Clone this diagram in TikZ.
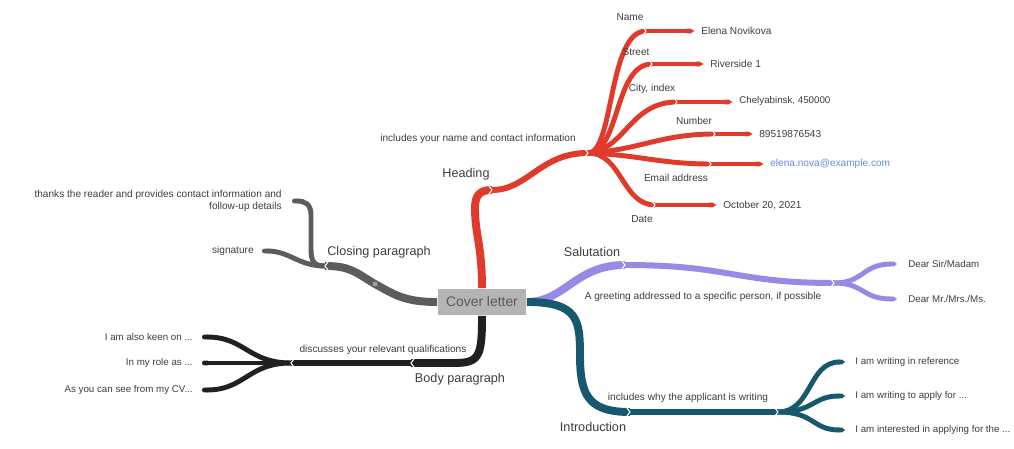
\documentclass[tikz,border=0pt]{standalone}
\usepackage{fontspec}
\setmainfont{Liberation Sans}
\usetikzlibrary{arrows.meta}
\definecolor{hred}{RGB}{224,58,42}
\definecolor{cgray}{RGB}{92,92,92}
\definecolor{bblack}{RGB}{32,32,32}
\definecolor{spurple}{RGB}{152,138,228}
\definecolor{iteal}{RGB}{22,88,110}
\definecolor{txt}{RGB}{66,60,62}
\definecolor{mailblue}{RGB}{104,140,214}
\definecolor{boxgray}{RGB}{180,180,180}
\begin{document}
\begin{tikzpicture}[x=0.02cm,y=-0.02cm,
    lbl/.style={font=\fontsize{5.75}{6.9}\selectfont,text=txt,inner sep=0pt},
    leaf/.style={lbl,font=\fontsize{5.55}{6.7}\selectfont},
    head/.style={font=\fontsize{7.2}{8.6}\selectfont,text=txt,inner sep=0pt},
    wa/.style={line width=4.5pt},
    wb/.style={line width=3.4pt},
    wc/.style={line width=2.8pt},
    jointcut/.style={draw=white,line width=0.6pt}]
    \useasboundingbox (0,0) rectangle (1014,449);
    \fill[white] (0,0) rectangle (1014,449);

    \node[fill=boxgray,minimum width=1.78cm,minimum height=0.54cm,inner sep=0pt,
        font=\fontsize{7.9}{9}\selectfont,text=txt!85] (cover) at (482,302) {Cover letter};

    % heading
    \coordinate (hj) at (492,190);
    \coordinate (hub) at (588,153);
    \draw[hred,wa] (cover.north) .. controls (482,245) and (475,235) .. (475,208)
        .. controls (475,195) and (480,190) .. (hj);
    \draw[hred,wb] (hj) .. controls (528,190) and (540,153) .. (hub);
    \node[lbl] (hdesc) at (478,139) {includes your name and contact information};
    \node[head] (heading) at (466,174) {Heading};

    \coordinate (nm) at (646,31);
    \coordinate (st) at (652,64);
    \coordinate (ct) at (677,102);
    \coordinate (nb) at (715,134);
    \coordinate (em) at (711,164);
    \coordinate (dt) at (655,205);
    \draw[hred,wc] (hub) .. controls (614,153) and (608,31) .. (nm);
    \draw[hred,wc] (hub) .. controls (620,153) and (614,64) .. (st);
    \draw[hred,wc] (hub) .. controls (625,150) and (630,102) .. (ct);
    \draw[hred,wc] (hub) .. controls (640,150) and (660,134) .. (nb);
    \draw[hred,wc] (hub) .. controls (640,155) and (660,164) .. (em);
    \draw[hred,wc] (hub) .. controls (622,153) and (622,205) .. (dt);

    \node[lbl] (kname) at (630,17) {Name};
    \node[lbl] (kstreet) at (636,52) {Street};
    \node[lbl] (kcity) at (652,89) {City, index};
    \node[lbl] (knumber) at (694,121) {Number};
    \node[lbl] (kmail) at (676,178) {Email address};
    \node[lbl] (kdate) at (642,219) {Date};

    \node[lbl,anchor=west] (v1) at (701,31) {Elena Novikova};
    \node[lbl,anchor=west] (v2) at (710,64) {Riverside 1};
    \node[leaf,anchor=west] (v3) at (739,101) {Chelyabinsk, 450000};
    \node[lbl,anchor=west] (v4) at (759,134) {89519876543};
    \node[lbl,anchor=west,text=mailblue] (v5) at (770,164) {elena.nova@example.com};
    \node[lbl,anchor=west] (v6) at (723,205) {October 20, 2021};
    \foreach \s/\v in {nm/v1,st/v2,ct/v3,nb/v4,em/v5,dt/v6}
        \draw[hred,wc,-{Triangle Cap[length=2.4pt]},shorten >=0.13cm] (\s) -- (\s -| \v.west);

    % salutation
    \coordinate (sj) at (625,265);
    \coordinate (sf) at (834,283);
    \draw[spurple,wa] (cover.east) .. controls (565,302) and (575,265) .. (sj);
    \draw[spurple,wb] (sj) .. controls (730,265) and (735,283) .. (sf);
    \node[head] (salut) at (592,252) {Salutation};
    \node[lbl] (sdesc) at (703,297) {A greeting addressed to a specific person, if possible};
    \node[leaf,anchor=west] (s1) at (908,264) {Dear Sir/Madam};
    \node[leaf,anchor=west] (s2) at (908,299) {Dear Mr./Mrs./Ms.};
    \draw[spurple,wc,-{Triangle Cap[length=1.8pt]},shorten >=0.22cm] (sf) .. controls (864,283) and (862,264) .. (s1.west);
    \draw[spurple,wc,-{Triangle Cap[length=1.8pt]},shorten >=0.22cm] (sf) .. controls (864,283) and (862,299) .. (s2.west);

    % introduction
    \coordinate (ij) at (630,412);
    \coordinate (if) at (778,412);
    \draw[iteal,wa] (cover.east) .. controls (578,302) and (580,320) .. (580,355)
        .. controls (580,395) and (588,412) .. (ij);
    \draw[iteal,wb] (ij) -- (if);
    \node[lbl] (idesc) at (688,398) {includes why the applicant is writing};
    \node[head] (intro) at (593,427) {Introduction};
    \node[leaf,anchor=west] (i1) at (855,362) {I am writing in reference};
    \node[leaf,anchor=west] (i2) at (855,396) {I am writing to apply for ...};
    \node[leaf,anchor=west] (i3) at (855,430) {I am interested in applying for the ...};
    \draw[iteal,wc,-{Triangle Cap[length=1.8pt]},shorten >=0.2cm] (if) .. controls (812,412) and (808,362) .. (i1.west);
    \draw[iteal,wc,-{Triangle Cap[length=1.8pt]},shorten >=0.2cm] (if) .. controls (815,412) and (812,396) .. (i2.west);
    \draw[iteal,wc,-{Triangle Cap[length=1.8pt]},shorten >=0.2cm] (if) .. controls (815,412) and (812,430) .. (i3.west);

    % body paragraph
    \coordinate (bj) at (411,363);
    \coordinate (bf) at (291,363);
    \draw[bblack,wa] (cover.south) .. controls (482,355) and (480,363) .. (455,363) -- (bj);
    \draw[bblack,wb] (bj) -- (bf);
    \node[lbl] (bdesc) at (383,350) {discusses your relevant qualifications};
    \node[head] (body) at (460,379) {Body paragraph};
    \node[leaf,anchor=east] (b1) at (193,337) {I am also keen on ...};
    \node[leaf,anchor=east] (b2) at (193,363) {In my role as ...};
    \node[leaf,anchor=east] (b3) at (193,390) {As you can see from my CV...};
    \draw[bblack,wc,-{Round Cap},shorten >=0.18cm] (bf) .. controls (248,363) and (245,337) .. (b1.east);
    \draw[bblack,wc,-{Round Cap},shorten >=0.18cm] (bf) -- (b2.east);
    \draw[bblack,wc,-{Round Cap},shorten >=0.18cm] (bf) .. controls (248,363) and (245,390) .. (b3.east);

    % closing paragraph
    \coordinate (cj) at (325,266);
    \coordinate (cdot) at (375,284);
    \draw[cgray,wa] (cover.west) .. controls (405,302) and (395,295) .. (cdot)
        .. controls (355,272) and (350,266) .. (cj);
    \fill[cgray!60] (cdot) circle[radius=2.5];
    \node[head] (closing) at (379,252) {Closing paragraph};
    \node[lbl,anchor=east,align=right] (c1) at (282,201)
        {thanks the reader and provides contact information and\\follow-up details};
    \node[lbl,anchor=east] (c2) at (254,251) {signature};
    \draw[cgray,wc,-{Round Cap},shorten >=0.2cm] (cj) .. controls (310,266) and (311,258) .. (311,240)
        -- (311,215) .. controls (311,204) and (305,201) .. (c1.east);
    \draw[cgray,wc,-{Round Cap},shorten >=0.16cm] (cj) .. controls (298,266) and (290,251) .. (c2.east);

    % joints
    \foreach \j in {hj,hub,nm,st,ct,nb,em,dt,sj,sf,ij,if}
        \draw[jointcut] ([shift={(-3,-4)}]\j) -- (\j) -- ([shift={(-3,4)}]\j);
    \foreach \j in {bj,bf,cj}
        \draw[jointcut] ([shift={(3,-4)}]\j) -- (\j) -- ([shift={(3,4)}]\j);
\end{tikzpicture}
\end{document}
